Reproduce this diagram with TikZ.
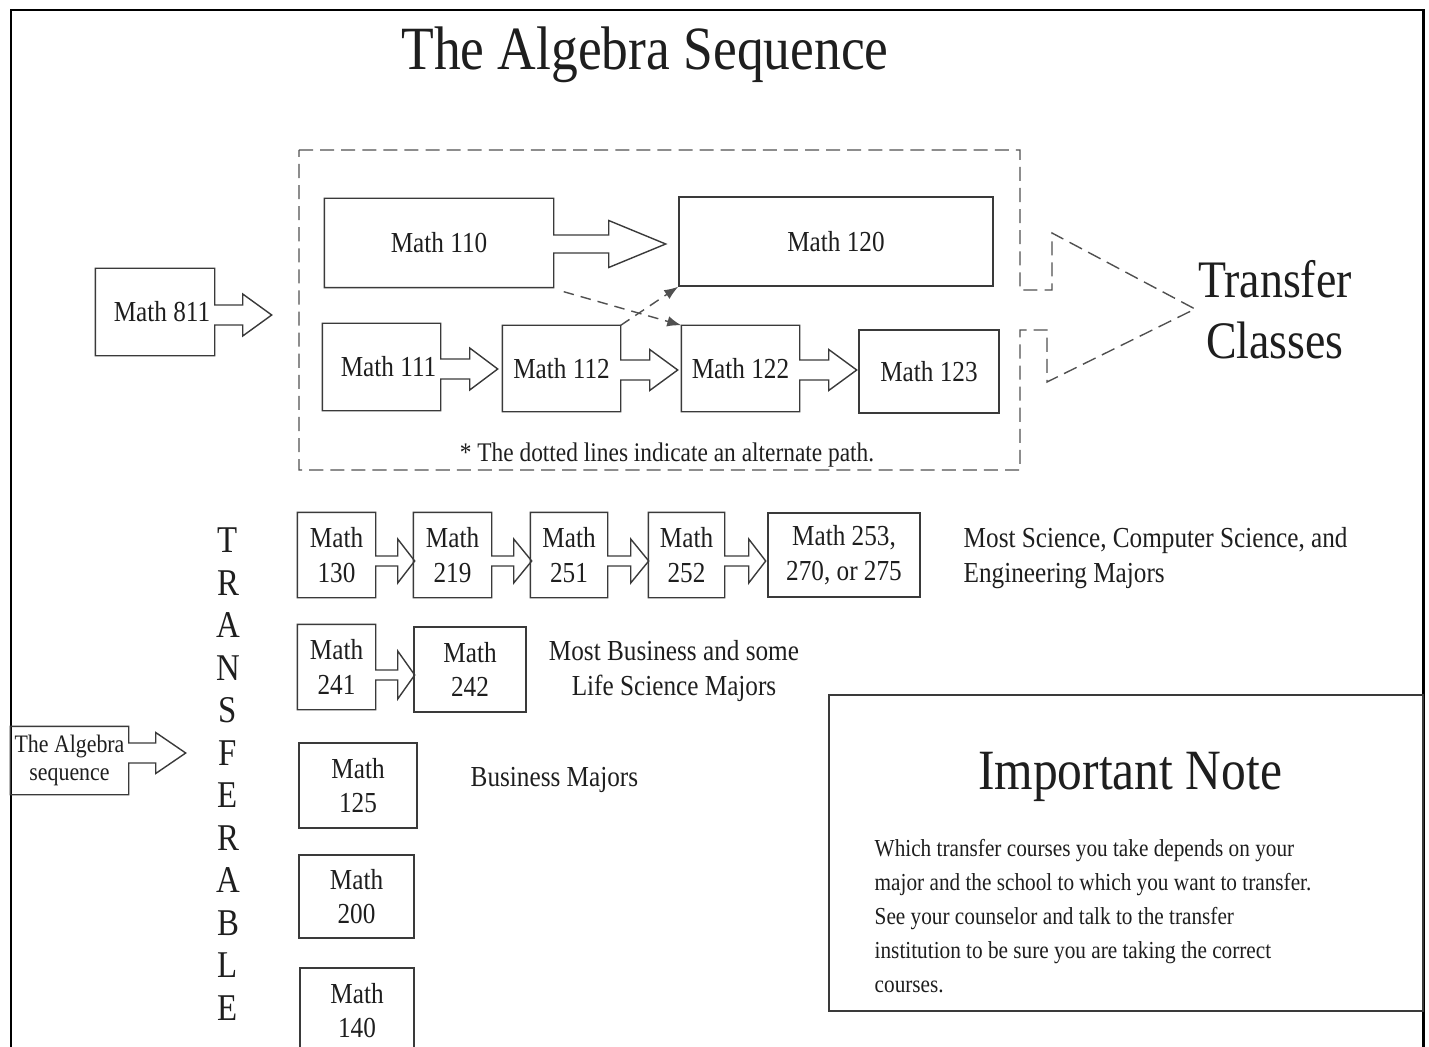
\documentclass[tikz,border=0pt]{standalone}
\usepackage{fontspec}
\setmainfont{Liberation Serif}[FakeStretch=0.87]
\usepackage{tikz}
\usetikzlibrary{calc, arrows.meta}
\usepackage{xcolor}
\definecolor{LineGray}{HTML}{3A3A3A}
\definecolor{DashGray}{HTML}{505050}
\definecolor{InkBlack}{HTML}{1E1E1E}
\newcommand{\boxfont}{\fontsize{16.5}{19.8}\selectfont}
\newcommand{\smallboxfont}{\fontsize{14.3}{15.9}\selectfont}
\newcommand{\altfont}{\fontsize{15.3}{18}\selectfont}
\newcommand{\titlefont}{\fontsize{35}{40}\selectfont}
\newcommand{\transferfont}{\fontsize{30}{34.6}\selectfont}
\newcommand{\letterfont}{\fontsize{21.5}{24.2}\selectfont}
\newcommand{\notetitlefont}{\fontsize{32.4}{36}\selectfont}
\newcommand{\notefont}{\fontsize{13.9}{19.4}\selectfont}
% box outline with an arrow on its right side
% #1 node, #2 arrow offset, #3 shaft half, #4 head half, #5 shaft length, #6 head length
\newcommand{\rightcallout}[6]{%
  \draw[LineGray] (#1.north west) -- (#1.north east)
    -- ($(#1.east)+(0,#2-#3)$) -- ++(#5,0) -- ++(0,#3-#4)
    -- ($(#1.east)+(#5+#6,#2)$)
    -- ($(#1.east)+(#5,#2+#4)$) -- ++(0,#3-#4)
    -- ($(#1.east)+(0,#2+#3)$)
    -- (#1.south east) -- (#1.south west) -- cycle;}

\begin{document}
\begin{tikzpicture}[x=0.02cm, y=-0.02cm, line width=0.8pt,
    every node/.style={text=InkBlack, font=\boxfont, inner sep=0pt},
    mathbox/.style n args={2}{minimum width=#1*0.02cm, minimum height=#2*0.02cm, align=center},
    altpath/.style={DashGray, dash pattern=on 6pt off 4pt, -{Latex[length=8pt, width=6pt]}}]
    \useasboundingbox (0,0) rectangle (1429,1047);
    \clip (0,0) rectangle (1429,1047);

    % Outer frame (open at the bottom)
    \draw[line width=1.7pt] (11,1060) -- (11,10) -- (1423,10) -- (1423,1060);

    % Title
    \node[font=\titlefont, anchor=base] (title) at (645,70) {The Algebra Sequence};

    % Dashed group with its arrow head towards the transfer classes
    \draw[DashGray, dash pattern=on 8pt off 4pt] (299,150) -- (1020,150) -- (1020,290) -- (1052,290)
        -- (1052,233) -- (1195,309) -- (1047,382) -- (1047,330) -- (1020,330) -- (1020,470)
        -- (299,470) -- cycle;
    \node[font=\transferfont, align=center] (transfer) at (1275,310) {Transfer\\Classes};
    \node[font=\altfont, anchor=base] (altnote) at (667,461) {* The dotted lines indicate an alternate path.};

    % Entry course
    \node[mathbox={118}{86}] (m811) at (155,312) {\hspace*{8pt}Math 811};
    \rightcallout{m811}{3}{10}{21}{28}{29}

    % Upper path
    \node[mathbox={228}{88}] (m110) at (439,243) {Math 110};
    \rightcallout{m110}{1}{9}{23.5}{55}{57}
    \node[mathbox={314}{89}, draw=LineGray] (m120) at (836,241.5) {Math 120};

    % Lower path
    \node[mathbox={117}{86}] (m111) at (381.5,367) {\hspace*{8pt}Math 111};
    \rightcallout{m111}{2}{10}{21}{29}{28}
    \node[mathbox={117}{85}] (m112) at (561.5,368.5) {Math 112};
    \rightcallout{m112}{1.5}{10}{20.5}{29}{28}
    \node[mathbox={117}{85}] (m122) at (740.5,368.5) {Math 122};
    \rightcallout{m122}{1.5}{10}{20.5}{29}{28}
    \node[mathbox={140}{83}, draw=LineGray] (m123) at (929,371.5) {Math 123};

    % Alternate paths (dashed)
    \draw[altpath] ($(m110.south east)+(10,4)$) -- (m122.north west);
    \draw[altpath] (m112.north east) -- (m120.south west);

    % Transferable column
    \node[font=\letterfont, align=center] (transferable) at (228,774) {T\\R\\A\\N\\S\\F\\E\\R\\A\\B\\L\\E};
    \node[mathbox={117}{67}, font=\smallboxfont] (algseq) at (69.5,760.5) {The Algebra\\sequence};
    \rightcallout{algseq}{-7.5}{10}{20.5}{27}{30}

    % Science row
    \node[mathbox={77}{84}] (m130) at (336.5,555) {Math\\130};
    \rightcallout{m130}{6}{5}{22}{22}{17}
    \node[mathbox={77}{84}] (m219) at (452.5,555) {Math\\219};
    \rightcallout{m219}{6}{5}{22}{22}{18}
    \node[mathbox={76}{84}] (m251) at (569,555) {Math\\251};
    \rightcallout{m251}{6}{5}{22}{23}{18}
    \node[mathbox={75}{84}] (m252) at (686.5,555) {Math\\252};
    \rightcallout{m252}{6}{5}{22}{24}{17}
    \node[mathbox={152}{84}, draw=LineGray] (m253) at (844,555) {Math 253,\\270, or 275};
    \node[anchor=west, align=left] (sciencemajors) at (963,558) {Most Science, Computer Science, and\\Engineering Majors};

    % Business / life science row
    \node[mathbox={77}{84}] (m241) at (336.5,667) {Math\\241};
    \rightcallout{m241}{8}{5}{24}{22}{17}
    \node[mathbox={112}{85}, draw=LineGray] (m242) at (470,669.5) {Math\\242};
    \node[align=center] (lifemajors) at (674,671) {Most Business and some\\Life Science Majors};

    % Single courses
    \node[mathbox={118}{85}, draw=LineGray] (m125) at (358,785.5) {Math\\125};
    \node[anchor=base west] (businessmajors) at (470,786) {Business Majors};
    \node[mathbox={115}{83}, draw=LineGray] (m200) at (356.5,896.5) {Math\\200};
    \node[mathbox={114}{85}, draw=LineGray] (m140) at (357,1010.5) {Math\\140};

    % Important note
    \node[mathbox={594}{316}, draw=LineGray] (note) at (1126,853) {};
    \node[font=\notetitlefont, anchor=base] (notetitle) at (1130,789) {Important Note};
    \node[font=\notefont, anchor=west, align=left] (notetext) at (874,916) {Which transfer courses you take depends on your\\major and the school to which you want to transfer.\\See your counselor and talk to the transfer\\institution to be sure you are taking the correct\\courses.};
\end{tikzpicture}
\end{document}
